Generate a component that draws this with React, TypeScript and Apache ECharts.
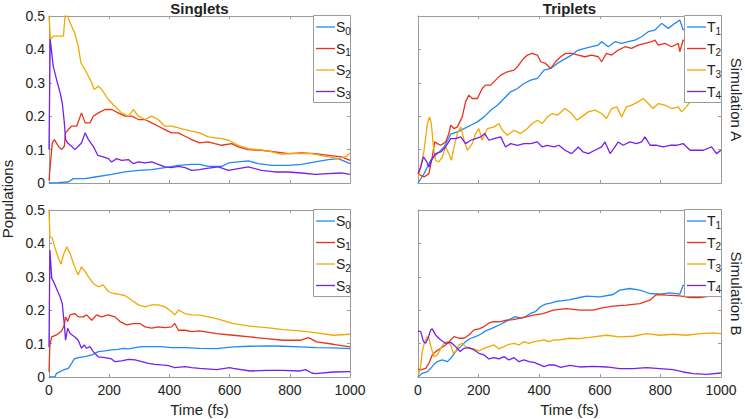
import React, { useEffect, useRef } from "react";
import * as echarts from "echarts";

// ---------- data (time in fs, population) ----------
const timeTicks = [0, 200, 400, 600, 800, 1000];
const popTicks = [0, 0.1, 0.2, 0.3, 0.4, 0.5];

// Simulation A – singlets
const A_S0: number[][] = [[0,0],[30,0.001],[64,0.003],[81,0.013],[120,0.013],[153,0.018],[208,0.026],[252,0.033],[297,0.038],[341,0.04],[385,0.046],[430,0.053],[474,0.056],[500,0.056],[529,0.05],[574,0.05],[596,0.06],[629,0.063],[662,0.066],[695,0.058],[740,0.053],[795,0.053],[839,0.056],[884,0.063],[928,0.07],[961,0.073],[1000,0.058]];
const A_S1: number[][] = [[0,0.008],[5,0.06],[11,0.12],[18,0.13],[31,0.11],[42,0.1],[51,0.11],[55,0.15],[64,0.16],[75,0.17],[92,0.17],[108,0.21],[120,0.18],[136,0.18],[147,0.2],[164,0.21],[186,0.22],[208,0.22],[230,0.21],[252,0.2],[275,0.2],[297,0.19],[319,0.19],[341,0.18],[363,0.17],[385,0.16],[407,0.15],[430,0.15],[452,0.14],[474,0.13],[500,0.12],[529,0.123],[551,0.118],[574,0.113],[607,0.118],[629,0.108],[662,0.1],[706,0.098],[751,0.093],[795,0.088],[839,0.09],[884,0.088],[928,0.083],[972,0.078],[1000,0.068]];
const A_S2: number[][] = [[0,0.5],[5,0.43],[15,0.44],[48,0.44],[55,0.52],[62,0.5],[70,0.48],[85,0.45],[97,0.41],[106,0.36],[125,0.33],[142,0.3],[150,0.28],[164,0.29],[175,0.28],[197,0.25],[219,0.23],[241,0.21],[264,0.2],[280,0.22],[297,0.2],[319,0.19],[341,0.2],[363,0.19],[385,0.17],[407,0.17],[430,0.165],[452,0.16],[474,0.155],[500,0.15],[529,0.138],[574,0.133],[596,0.128],[629,0.113],[662,0.103],[695,0.1],[740,0.093],[773,0.086],[795,0.088],[839,0.088],[873,0.088],[928,0.078],[961,0.073],[989,0.08],[1000,0.09]];
const A_S3: number[][] = [[0,0.1],[4,0.43],[14,0.35],[25,0.31],[37,0.27],[44,0.24],[51,0.18],[55,0.13],[62,0.12],[75,0.11],[86,0.1],[97,0.11],[108,0.12],[120,0.15],[131,0.13],[147,0.11],[162,0.083],[180,0.078],[197,0.073],[208,0.063],[225,0.073],[241,0.068],[264,0.07],[280,0.058],[297,0.063],[319,0.06],[341,0.063],[363,0.056],[385,0.048],[407,0.046],[430,0.05],[452,0.046],[474,0.038],[500,0.04],[518,0.043],[563,0.048],[596,0.038],[629,0.043],[662,0.048],[706,0.038],[751,0.033],[795,0.033],[839,0.03],[884,0.026],[928,0.028],[972,0.03],[1000,0.026]];

// Simulation A – triplets
const A_T1: number[][] = [[0,0],[20,0.028],[42,0.068],[64,0.088],[86,0.108],[108,0.146],[130,0.153],[152,0.163],[174,0.173],[196,0.183],[218,0.198],[240,0.218],[262,0.233],[284,0.253],[306,0.273],[328,0.283],[350,0.298],[372,0.308],[394,0.313],[416,0.338],[438,0.343],[460,0.358],[482,0.37],[507,0.383],[529,0.398],[551,0.403],[573,0.408],[595,0.413],[606,0.423],[628,0.408],[650,0.423],[672,0.418],[694,0.423],[716,0.428],[738,0.438],[760,0.453],[782,0.458],[804,0.478],[826,0.463],[848,0.478],[864,0.488],[875,0.458],[900,0.47],[930,0.48],[960,0.475],[1000,0.48]];
const A_T2: number[][] = [[0,0.028],[9,0.023],[20,0.018],[36,0.028],[47,0.078],[55,0.123],[64,0.118],[75,0.113],[91,0.123],[102,0.148],[108,0.173],[119,0.163],[130,0.168],[146,0.198],[157,0.243],[168,0.263],[179,0.253],[196,0.253],[212,0.283],[223,0.293],[240,0.293],[256,0.308],[273,0.323],[295,0.333],[317,0.338],[328,0.348],[344,0.368],[361,0.383],[377,0.388],[394,0.383],[405,0.363],[421,0.358],[438,0.343],[454,0.363],[471,0.378],[487,0.388],[507,0.388],[529,0.383],[551,0.378],[573,0.383],[595,0.378],[606,0.363],[622,0.388],[639,0.383],[661,0.398],[683,0.408],[705,0.403],[727,0.413],[749,0.418],[771,0.423],[782,0.428],[793,0.413],[815,0.418],[837,0.408],[859,0.418],[864,0.393],[875,0.428],[910,0.42],[950,0.425],[1000,0.42]];
const A_T3: number[][] = [[0,0.013],[9,0.048],[20,0.098],[31,0.178],[38,0.198],[44,0.178],[51,0.108],[58,0.068],[69,0.063],[80,0.078],[91,0.108],[102,0.088],[110,0.068],[119,0.108],[130,0.148],[141,0.168],[152,0.128],[163,0.098],[179,0.118],[190,0.148],[201,0.163],[212,0.128],[229,0.163],[251,0.168],[267,0.178],[278,0.158],[295,0.143],[317,0.158],[339,0.148],[361,0.163],[377,0.178],[394,0.188],[410,0.178],[427,0.198],[443,0.208],[460,0.203],[485,0.223],[507,0.208],[524,0.188],[540,0.198],[562,0.213],[584,0.218],[606,0.208],[622,0.193],[639,0.223],[656,0.228],[672,0.198],[688,0.228],[705,0.233],[727,0.243],[743,0.253],[760,0.238],[776,0.223],[793,0.238],[815,0.233],[837,0.223],[859,0.228],[870,0.213],[886,0.228],[897,0.243],[930,0.25],[970,0.255],[1000,0.25]];
const A_T4: number[][] = [[0,0.028],[9,0.048],[18,0.078],[29,0.063],[36,0.048],[47,0.073],[58,0.088],[75,0.093],[91,0.108],[108,0.133],[124,0.133],[141,0.138],[157,0.118],[174,0.128],[190,0.133],[207,0.138],[220,0.148],[234,0.128],[251,0.133],[273,0.138],[289,0.108],[306,0.118],[328,0.113],[350,0.118],[372,0.118],[394,0.123],[410,0.108],[427,0.113],[449,0.108],[465,0.113],[485,0.098],[507,0.088],[529,0.108],[545,0.093],[562,0.088],[584,0.098],[606,0.108],[617,0.123],[634,0.088],[650,0.108],[661,0.123],[677,0.113],[699,0.123],[721,0.118],[738,0.123],[749,0.138],[766,0.113],[788,0.113],[809,0.108],[832,0.113],[853,0.113],[875,0.118],[898,0.098],[920,0.098],[942,0.098],[969,0.108],[985,0.088],[1000,0.098]];

// Simulation B – singlets
const B_S0: number[][] = [[0,0],[20,0.001],[25,0.011],[37,0.016],[48,0.021],[64,0.026],[75,0.041],[84,0.054],[97,0.058],[120,0.061],[142,0.066],[164,0.076],[186,0.078],[208,0.081],[230,0.083],[247,0.086],[264,0.084],[286,0.088],[308,0.091],[341,0.091],[374,0.091],[407,0.088],[452,0.088],[500,0.086],[557,0.085],[612,0.09],[668,0.092],[723,0.093],[778,0.092],[834,0.09],[889,0.088],[945,0.087],[1000,0.085]];
const B_S1: number[][] = [[0,0.016],[3,0.096],[9,0.12],[25,0.126],[42,0.138],[51,0.156],[55,0.18],[62,0.166],[70,0.186],[86,0.19],[97,0.18],[114,0.18],[125,0.186],[142,0.17],[158,0.186],[175,0.18],[197,0.186],[219,0.18],[236,0.166],[258,0.156],[280,0.16],[302,0.16],[319,0.15],[341,0.146],[363,0.15],[385,0.148],[407,0.15],[418,0.16],[430,0.14],[452,0.14],[474,0.136],[500,0.138],[557,0.13],[612,0.125],[668,0.12],[723,0.115],[778,0.11],[834,0.11],[862,0.118],[889,0.105],[945,0.098],[1000,0.09]];
const B_S2: number[][] = [[0,0.5],[3,0.42],[11,0.416],[20,0.386],[31,0.356],[40,0.338],[48,0.366],[59,0.39],[70,0.37],[81,0.34],[92,0.316],[97,0.306],[108,0.33],[120,0.316],[131,0.3],[147,0.28],[164,0.27],[180,0.276],[197,0.256],[214,0.25],[230,0.248],[252,0.244],[275,0.23],[297,0.216],[319,0.21],[341,0.216],[363,0.216],[385,0.21],[407,0.196],[418,0.186],[430,0.2],[452,0.19],[474,0.186],[502,0.185],[557,0.175],[612,0.16],[668,0.152],[723,0.148],[778,0.142],[834,0.138],[889,0.132],[945,0.125],[1000,0.128]];
const B_S3: number[][] = [[0,0.09],[3,0.38],[9,0.296],[18,0.28],[29,0.256],[37,0.24],[44,0.22],[51,0.156],[55,0.11],[62,0.146],[70,0.13],[86,0.12],[97,0.11],[108,0.086],[117,0.096],[125,0.086],[136,0.091],[147,0.076],[164,0.06],[186,0.058],[208,0.054],[219,0.046],[241,0.048],[264,0.053],[286,0.051],[308,0.046],[330,0.041],[352,0.038],[374,0.036],[397,0.034],[418,0.028],[452,0.031],[474,0.028],[500,0.026],[557,0.022],[600,0.028],[612,0.026],[668,0.018],[723,0.02],[778,0.02],[834,0.018],[852,0.022],[873,0.012],[884,0.01],[945,0.015],[1000,0.016]];

// Simulation B – triplets
const B_T1: number[][] = [[0,0],[14,0.011],[31,0.016],[42,0.026],[53,0.038],[64,0.046],[80,0.051],[97,0.046],[108,0.056],[124,0.076],[141,0.091],[157,0.106],[174,0.116],[190,0.121],[207,0.128],[223,0.138],[240,0.144],[256,0.151],[273,0.158],[289,0.166],[306,0.174],[322,0.181],[339,0.176],[355,0.181],[372,0.191],[388,0.196],[405,0.211],[421,0.218],[438,0.221],[454,0.226],[471,0.228],[498,0.231],[534,0.238],[556,0.242],[600,0.24],[644,0.247],[666,0.26],[699,0.265],[732,0.26],[765,0.25],[798,0.248],[831,0.252],[864,0.248],[875,0.275],[910,0.265],[950,0.26],[1000,0.26]];
const B_T2: number[][] = [[0,0.024],[9,0.021],[25,0.026],[36,0.041],[47,0.066],[58,0.076],[75,0.086],[91,0.096],[108,0.111],[119,0.121],[135,0.116],[152,0.116],[168,0.126],[185,0.141],[204,0.145],[218,0.151],[237,0.163],[251,0.166],[270,0.165],[291,0.17],[314,0.172],[347,0.178],[380,0.185],[413,0.19],[446,0.2],[490,0.205],[534,0.2],[578,0.2],[611,0.208],[644,0.212],[688,0.215],[732,0.22],[765,0.23],[787,0.247],[820,0.245],[864,0.243],[897,0.238],[930,0.238],[963,0.242],[1000,0.245]];
const B_T3: number[][] = [[0,0.006],[7,0.021],[14,0.076],[22,0.106],[31,0.121],[36,0.116],[44,0.086],[53,0.061],[64,0.066],[75,0.086],[86,0.101],[97,0.106],[108,0.096],[117,0.071],[124,0.076],[135,0.096],[146,0.101],[157,0.091],[168,0.086],[185,0.084],[201,0.078],[218,0.086],[234,0.091],[251,0.096],[267,0.084],[284,0.091],[300,0.098],[317,0.101],[333,0.096],[350,0.106],[366,0.101],[383,0.106],[399,0.108],[416,0.111],[432,0.106],[449,0.111],[471,0.111],[498,0.116],[534,0.115],[578,0.12],[622,0.125],[666,0.12],[710,0.122],[754,0.13],[798,0.125],[842,0.128],[886,0.125],[930,0.13],[974,0.132],[1000,0.13]];
const B_T4: number[][] = [[0,0.138],[9,0.136],[18,0.106],[25,0.101],[33,0.116],[42,0.141],[47,0.144],[58,0.126],[75,0.111],[91,0.101],[108,0.104],[124,0.091],[139,0.076],[152,0.086],[168,0.088],[185,0.081],[201,0.071],[218,0.066],[234,0.054],[251,0.058],[267,0.054],[284,0.061],[300,0.051],[317,0.058],[333,0.046],[350,0.051],[366,0.046],[383,0.044],[399,0.038],[416,0.031],[432,0.036],[449,0.036],[471,0.029],[501,0.035],[534,0.03],[578,0.032],[622,0.03],[666,0.025],[710,0.025],[754,0.028],[798,0.025],[842,0.022],[875,0.015],[908,0.01],[952,0.008],[1000,0.012]];

const panelTitles = ["Singlets", "Triplets"];
const simLabels = ["Simulation A", "Simulation B"];
const xTitle = "Time (fs)";
const yTitle = "Populations";

const panels = [
  { names: ["S0", "S1", "S2", "S3"], data: [A_S0, A_S1, A_S2, A_S3], tag: "A" },
  { names: ["T1", "T2", "T3", "T4"], data: [A_T1, A_T2, A_T3, A_T4], tag: "A" },
  { names: ["S0", "S1", "S2", "S3"], data: [B_S0, B_S1, B_S2, B_S3], tag: "B" },
  { names: ["T1", "T2", "T3", "T4"], data: [B_T1, B_T2, B_T3, B_T4], tag: "B" },
];

const COLORS = ["#2088f8", "#e8331c", "#f2a800", "#7521ee"];
const BOX = "#9b9b9b";
const INK = "#222222";
const FONT = "'Liberation Sans', Arial, Helvetica, sans-serif";

const grids = [
  { left: 49, top: 16, width: 301, height: 167 },
  { left: 418, top: 16, width: 303, height: 167 },
  { left: 49, top: 210, width: 301, height: 167 },
  { left: 418, top: 210, width: 303, height: 167 },
];

export default function App() {
  const ref = useRef<HTMLDivElement>(null);
  useEffect(() => {
    if (!ref.current) return;
    const chart = echarts.init(ref.current, undefined, { renderer: "svg" });

    const xAxes: any[] = [];
    const yAxes: any[] = [];
    const mkAxisLine = { show: true, onZero: false, lineStyle: { color: BOX, width: 1 } };
    const mkTick = { show: true, inside: true, length: 3, lineStyle: { color: BOX, width: 1 } };
    for (const pos of ["bottom", "top"]) {
      grids.forEach((_, i) => {
        xAxes.push({
          gridIndex: i, type: "value", position: pos,
          min: timeTicks[0], max: timeTicks[timeTicks.length - 1], interval: timeTicks[1] - timeTicks[0],
          axisLine: mkAxisLine, axisTick: mkTick, splitLine: { show: false },
          axisLabel: {
            show: pos === "bottom" && i >= 2, margin: 6, fontSize: 14, color: INK, fontFamily: FONT,
            formatter: (v: number) => String(v),
          },
        });
      });
    }
    for (const pos of ["left", "right"]) {
      grids.forEach((_, i) => {
        yAxes.push({
          gridIndex: i, type: "value", position: pos,
          min: popTicks[0], max: popTicks[popTicks.length - 1], interval: 0.1,
          axisLine: mkAxisLine, axisTick: mkTick, splitLine: { show: false },
          axisLabel: {
            show: pos === "left" && i % 2 === 0, margin: 4, fontSize: 14, color: INK, fontFamily: FONT,
            formatter: (v: number) => String(Math.round(v * 10) / 10),
          },
        });
      });
    }

    const series: any[] = [];
    const graphics: any[] = [];
    panels.forEach((p, i) => {
      p.names.forEach((n, k) => {
        series.push({
          name: `${n} ${p.tag}`, type: "line", xAxisIndex: i, yAxisIndex: i,
          data: p.data[k], showSymbol: false, symbol: "none", clip: true,
          lineStyle: { color: COLORS[k], width: 1.3 }, itemStyle: { color: COLORS[k] },
          z: 2,
        });
      });
      // legend box drawn as graphic elements
      const g = grids[i];
      const right = g.left + g.width;
      const bx = right - 37;
      const by = g.top - 1;
      graphics.push({
        type: "rect", z: 30,
        shape: { x: bx + 0.5, y: by + 0.5, width: 37, height: 87 },
        style: { fill: "#ffffff", stroke: BOX, lineWidth: 1 },
      });
      p.names.forEach((n, k) => {
        const cy = by + 12 + k * 21.5;
        graphics.push({
          type: "line", z: 31,
          shape: { x1: bx + 3, y1: cy, x2: bx + 22, y2: cy },
          style: { stroke: COLORS[k], lineWidth: 1.3 },
        });
        graphics.push({
          type: "text", z: 31, x: bx + 23, y: cy,
          style: {
            text: `{m|${n[0]}}{s|${n[1]}}`,
            textVerticalAlign: "middle", verticalAlign: "middle", textAlign: "left", align: "left",
            rich: {
              m: { fontSize: 14, fontFamily: FONT, fill: INK, color: INK, lineHeight: 18, verticalAlign: "middle" },
              s: { fontSize: 10, fontFamily: FONT, fill: INK, color: INK, lineHeight: 8, verticalAlign: "bottom" },
            },
          },
        });
      });
    });

    const txt = (text: string, x: number, y: number, size: number, weight: string, rotation = 0) => ({
      type: "text", x, y, rotation, z: 20,
      style: {
        text, fontSize: size, fontFamily: FONT, fontWeight: weight, fill: INK,
        textAlign: "center", textVerticalAlign: "middle", align: "center", verticalAlign: "middle",
      },
    });

    chart.setOption({
      animation: false,
      backgroundColor: "#ffffff",
      grid: grids.map((g) => ({ ...g, containLabel: false, outerBoundsMode: "none" })),
      xAxis: xAxes,
      yAxis: yAxes,
      series,
      graphic: [
        ...graphics,
        txt(panelTitles[0], 199.5, 8, 15, "bold"),
        txt(panelTitles[1], 569.5, 8, 15, "bold"),
        txt(xTitle, 199.5, 409, 15, "normal"),
        txt(xTitle, 569.5, 409, 15, "normal"),
        txt(yTitle, 7, 199, 15, "normal", Math.PI / 2),
        txt(simLabels[0], 736, 99.5, 15, "normal", -Math.PI / 2),
        txt(simLabels[1], 736, 293.5, 15, "normal", -Math.PI / 2),
      ],
    });
    return () => chart.dispose();
  }, []);
  return <div ref={ref} style={{ position: "fixed", left: 0, top: 0, width: 745, height: 419 }} />;
}
